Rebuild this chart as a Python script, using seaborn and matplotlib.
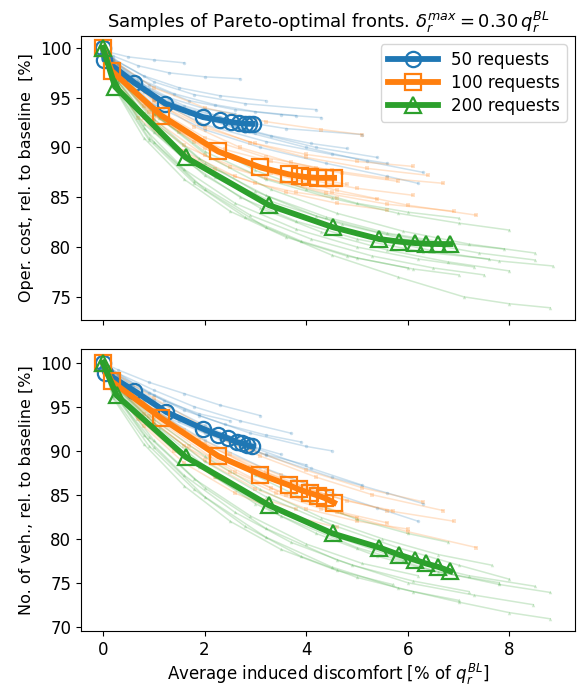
import numpy as np
import pandas as pd
import matplotlib
matplotlib.use("Agg")
import matplotlib.pyplot as plt
import seaborn as sns

# ---------------- data ----------------
GROUPS = ["50 requests", "100 requests", "200 requests"]
COLORS = ["#1f77b4", "#ff7f0e", "#2ca02c"]
MARKERS = ["o", "s", "^"]

# mean fronts, top panel (operational cost)
COST_MEAN50_X = [0, 0.03, 0.62, 1.23, 1.97, 2.3, 2.52, 2.68, 2.79, 2.88, 2.95]
COST_MEAN50_Y = [100, 98.8, 96.5, 94.4, 93.05, 92.75, 92.55, 92.45, 92.4, 92.38, 92.38]
COST_MEAN100_X = [0, 0.17, 1.15, 2.27, 3.1, 3.66, 3.88, 4.07, 4.24, 4.38, 4.55]
COST_MEAN100_Y = [100, 97.7, 93.2, 89.6, 88.0, 87.3, 87.1, 87.0, 86.95, 86.95, 86.95]
COST_MEAN200_X = [0, 0.24, 1.63, 3.27, 4.52, 5.44, 5.82, 6.14, 6.35, 6.6, 6.84]
COST_MEAN200_Y = [100, 96.1, 89.0, 84.2, 82.0, 80.8, 80.55, 80.4, 80.33, 80.3, 80.3]

# mean fronts, bottom panel (number of vehicles)
VEH_MEAN50_X = [0, 0.04, 0.62, 1.25, 1.97, 2.27, 2.47, 2.63, 2.73, 2.83, 2.93]
VEH_MEAN50_Y = [100, 98.9, 96.8, 94.4, 92.5, 91.8, 91.4, 91.0, 90.85, 90.67, 90.5]
VEH_MEAN100_X = [0, 0.17, 1.15, 2.27, 3.1, 3.66, 3.86, 4.07, 4.24, 4.38, 4.55]
VEH_MEAN100_Y = [100, 97.9, 93.7, 89.4, 87.3, 86.1, 85.6, 85.2, 84.9, 84.6, 84.1]
VEH_MEAN200_X = [0, 0.27, 1.63, 3.27, 4.52, 5.44, 5.82, 6.14, 6.35, 6.6, 6.84]
VEH_MEAN200_Y = [100, 96.3, 89.3, 83.8, 80.6, 79.0, 78.2, 77.6, 77.2, 76.8, 76.3]

# sample fronts, top panel
COST_S50_X = [
    [0, 0.1, 0.5, 1.0, 1.6],
    [0, 0.2, 0.7, 1.3, 2.0, 2.7],
    [0, 0.2, 0.8, 1.5, 2.3, 3.2],
    [0, 0.3, 1.0, 1.8, 2.8, 4.2],
    [0, 0.3, 0.9, 1.7, 2.6, 3.5, 4.3],
    [0, 0.2, 0.8, 1.6, 2.5, 3.6, 5.1],
    [0, 0.3, 1.0, 2.0, 3.0, 4.2, 5.4],
    [0, 0.3, 1.0, 2.0, 3.2, 4.5, 5.6],
    [0, 0.2, 0.8, 1.7, 2.8, 4.0, 5.2, 6.3],
    [0, 0.3, 1.0, 2.0, 3.1, 4.4, 5.6, 6.2],
    [0, 0.2, 0.7, 1.3, 2.0, 2.6],
    [0, 0.2, 0.6, 1.2, 1.8, 2.3],
    [0, 0.2, 0.7, 1.4, 2.2, 3.0, 3.8],
    [0, 0.3, 0.9, 1.6, 2.4, 3.3, 4.1, 4.8],
]
COST_S50_Y = [
    [100, 99.6, 99.1, 98.8, 98.5],
    [100, 99.2, 98.2, 97.5, 97.1, 96.9],
    [100, 98.9, 97.2, 96.0, 95.2, 94.7],
    [100, 98.6, 96.6, 95.3, 94.4, 93.8],
    [100, 98.4, 96.3, 94.7, 93.8, 93.3, 93.0],
    [100, 98.5, 96.1, 94.2, 92.8, 91.9, 91.3],
    [100, 98.0, 95.2, 93.0, 91.5, 90.0, 89.0],
    [100, 97.8, 94.8, 92.3, 90.6, 89.3, 88.4],
    [100, 98.2, 95.6, 93.4, 91.6, 90.0, 88.6, 87.5],
    [100, 97.6, 94.3, 91.8, 90.0, 88.4, 87.1, 86.4],
    [100, 98.6, 96.6, 95.0, 93.9, 93.4],
    [100, 98.3, 96.5, 94.8, 93.7, 93.1],
    [100, 98.7, 96.9, 95.4, 94.3, 93.6, 93.2],
    [100, 98.3, 95.9, 93.9, 92.4, 91.2, 90.4, 89.9],
]
COST_S100_X = [
    [0, 0.3, 1.0, 2.0, 3.2, 4.3, 5.1],
    [0, 0.3, 1.0, 2.0, 3.0, 4.0, 5.0, 6.1],
    [0, 0.3, 1.0, 2.0, 3.2, 4.5, 5.6, 6.7],
    [0, 0.3, 1.0, 2.0, 3.0, 4.0, 5.0, 6.1],
    [0, 0.3, 1.0, 2.0, 3.2, 4.4, 5.6, 6.9],
    [0, 0.3, 1.0, 2.1, 3.3, 4.6, 6.0, 7.35],
    [0, 0.2, 0.8, 1.6, 2.6, 3.6, 4.6, 5.6],
    [0, 0.2, 0.8, 1.5, 2.4, 3.3, 4.2],
    [0, 0.2, 0.7, 1.4, 2.2, 3.0, 3.8, 4.6],
    [0, 0.3, 1.0, 1.9, 2.9, 4.0, 5.2, 6.4],
    [0, 0.2, 0.9, 1.8, 2.8, 3.8, 4.8],
    [0, 0.2, 0.8, 1.6, 2.5, 3.5, 4.5, 5.4],
    [0, 0.3, 1.0, 1.8, 2.7, 3.7, 4.7, 5.8],
]
COST_S100_Y = [
    [100, 98.4, 96.0, 94.0, 92.6, 91.8, 91.3],
    [100, 97.8, 94.6, 92.0, 90.4, 89.3, 88.6, 88.1],
    [100, 97.5, 94.0, 91.0, 89.0, 87.7, 86.9, 86.4],
    [100, 97.2, 93.2, 89.9, 88.0, 86.8, 85.9, 85.2],
    [100, 97.0, 92.8, 89.2, 86.9, 85.4, 84.3, 83.6],
    [100, 97.3, 93.4, 89.8, 87.4, 85.7, 84.2, 83.2],
    [100, 97.0, 93.0, 89.6, 87.1, 85.5, 84.4, 83.7],
    [100, 97.6, 94.2, 91.6, 89.8, 88.6, 87.9],
    [100, 96.8, 93.0, 90.0, 87.8, 86.4, 85.5, 84.9],
    [100, 98.0, 95.0, 92.4, 90.5, 89.0, 87.9, 87.2],
    [100, 97.4, 93.6, 90.6, 88.6, 87.2, 86.3],
    [100, 97.2, 93.4, 90.2, 88.0, 86.5, 85.5, 84.8],
    [100, 97.9, 94.8, 92.1, 90.0, 88.5, 87.4, 86.6],
]
COST_S200_X = [
    [0, 0.3, 1.0, 2.0, 3.2, 4.5, 5.8, 7.0, 8.0],
    [0, 0.3, 1.0, 2.0, 3.3, 4.7, 6.1, 7.4, 8.5],
    [0, 0.3, 1.1, 2.2, 3.5, 5.0, 6.5, 7.8, 8.85],
    [0, 0.3, 1.0, 2.0, 3.2, 4.5, 5.8, 7.1, 8.0, 8.8],
    [0, 0.2, 0.8, 1.6, 2.6, 3.8, 5.0, 6.2, 7.3],
    [0, 0.3, 1.0, 2.0, 3.2, 4.4, 5.6, 6.8, 7.9],
    [0, 0.2, 0.9, 1.8, 2.9, 4.1, 5.3, 6.5, 7.5],
    [0, 0.3, 1.0, 2.0, 3.0, 4.0, 5.0, 6.0, 7.0],
    [0, 0.2, 0.8, 1.6, 2.5, 3.6, 4.8, 6.0],
    [0, 0.3, 1.0, 2.0, 3.1, 4.3, 5.6, 6.8, 8.0],
    [0, 0.3, 1.1, 2.1, 3.3, 4.6, 5.9, 7.2, 8.5],
    [0, 0.2, 0.9, 1.8, 2.8, 3.9, 5.0, 6.1, 7.0],
    [0, 0.2, 0.8, 1.7, 2.7, 3.8, 5.0, 6.3, 7.6],
    [0, 0.3, 1.0, 1.9, 3.0, 4.2, 5.4, 6.6],
]
COST_S200_Y = [
    [100, 97.4, 93.4, 89.6, 86.8, 84.9, 83.4, 82.4, 81.7],
    [100, 96.8, 92.0, 87.8, 84.6, 82.3, 80.6, 79.4, 78.7],
    [100, 96.6, 91.5, 87.0, 83.7, 81.3, 79.6, 78.6, 78.1],
    [100, 96.0, 90.6, 85.8, 82.0, 79.2, 77.0, 75.0, 74.3, 73.9],
    [100, 96.8, 92.0, 87.8, 84.4, 81.8, 80.0, 78.8, 78.0],
    [100, 97.0, 92.6, 88.4, 85.2, 83.0, 81.4, 80.4, 79.8],
    [100, 96.4, 91.0, 86.6, 83.2, 80.8, 79.1, 77.9, 77.2],
    [100, 97.6, 94.0, 90.4, 87.7, 85.8, 84.4, 83.5, 82.9],
    [100, 96.2, 91.0, 86.8, 83.6, 81.0, 79.1, 77.9],
    [100, 96.6, 91.6, 87.2, 83.9, 81.5, 79.7, 78.5, 77.6],
    [100, 97.2, 93.0, 89.0, 85.8, 83.4, 81.6, 80.3, 79.4],
    [100, 96.2, 90.8, 86.4, 83.0, 80.6, 78.9, 77.8, 77.2],
    [100, 96.9, 92.4, 88.4, 85.0, 82.6, 80.8, 79.5, 78.8],
    [100, 97.1, 92.9, 88.9, 85.6, 83.1, 81.5, 80.4],
]

# sample fronts, bottom panel
VEH_S50_X = [
    [0, 0.3, 0.9, 1.6, 2.3, 3.1],
    [0, 0.3, 1.0, 1.8, 2.7, 3.7],
    [0, 0.3, 1.0, 1.9, 2.9, 4.0, 4.5],
    [0, 0.3, 1.0, 2.0, 3.0, 4.1, 5.1],
    [0, 0.3, 1.0, 2.0, 3.2, 4.5, 5.6, 6.3],
    [0, 0.3, 1.0, 2.0, 3.1, 4.3, 5.4, 6.2],
    [0, 0.2, 0.8, 1.5, 2.3, 3.0],
    [0, 0.2, 0.7, 1.3, 2.0, 2.6],
    [0, 0.2, 0.8, 1.5, 2.3, 3.2, 4.0],
    [0, 0.3, 0.9, 1.6, 2.4, 3.2, 3.9],
    [0, 0.2, 0.6, 1.2, 1.9, 2.5],
    [0, 0.2, 0.7, 1.4, 2.1, 2.9, 3.5],
]
VEH_S50_Y = [
    [100, 99.2, 97.8, 96.5, 95.2, 94.0],
    [100, 98.8, 96.9, 95.0, 93.4, 92.0],
    [100, 98.6, 96.4, 94.0, 92.0, 90.5, 90.0],
    [100, 98.4, 95.8, 92.9, 90.3, 88.0, 86.1],
    [100, 98.2, 95.4, 92.3, 89.5, 87.0, 85.2, 84.0],
    [100, 97.8, 94.6, 91.2, 88.2, 85.6, 83.5, 82.0],
    [100, 98.5, 96.0, 93.8, 92.0, 90.8],
    [100, 98.2, 95.8, 93.7, 92.0, 91.0],
    [100, 98.4, 95.8, 93.4, 91.3, 89.6, 88.4],
    [100, 98.8, 96.6, 94.6, 93.0, 91.8, 91.0],
    [100, 98.9, 97.4, 95.7, 94.2, 93.4],
    [100, 98.6, 96.4, 94.1, 92.2, 90.6, 89.6],
]
VEH_S100_X = [
    [0, 0.3, 1.0, 2.0, 3.1, 4.2, 5.3, 6.7],
    [0, 0.3, 1.0, 2.0, 3.2, 4.4, 5.6, 6.9],
    [0, 0.3, 1.0, 2.1, 3.3, 4.6, 6.0, 7.35],
    [0, 0.3, 1.0, 2.0, 3.0, 4.0, 5.0, 6.0],
    [0, 0.2, 0.8, 1.6, 2.5, 3.4, 4.3, 5.0],
    [0, 0.2, 0.8, 1.6, 2.5, 3.5, 4.4],
    [0, 0.3, 1.0, 1.9, 2.9, 3.9, 4.8, 5.7],
    [0, 0.2, 0.7, 1.4, 2.2, 3.0, 3.8],
    [0, 0.3, 1.0, 1.9, 2.9, 4.0, 5.1, 6.3],
    [0, 0.2, 0.8, 1.6, 2.6, 3.6, 4.6],
    [0, 0.2, 0.9, 1.7, 2.6, 3.6, 4.7, 5.6],
]
VEH_S100_Y = [
    [100, 98.2, 95.4, 92.2, 89.4, 87.0, 85.0, 83.2],
    [100, 97.8, 94.6, 90.8, 87.6, 85.0, 83.2, 82.0],
    [100, 97.4, 93.8, 89.4, 85.8, 83.0, 80.8, 79.0],
    [100, 97.2, 93.2, 88.9, 85.7, 83.4, 82.0, 81.1],
    [100, 97.6, 94.2, 90.6, 87.6, 85.2, 83.4, 82.4],
    [100, 98.2, 95.6, 92.4, 89.6, 87.2, 85.5],
    [100, 97.8, 94.6, 91.2, 88.2, 85.9, 84.3, 83.2],
    [100, 97.2, 93.6, 90.0, 87.0, 84.8, 83.4],
    [100, 98.6, 96.0, 93.0, 90.2, 87.8, 85.8, 84.2],
    [100, 97.0, 92.8, 88.6, 85.2, 82.8, 81.3],
    [100, 97.7, 94.0, 90.6, 87.6, 85.0, 83.0, 81.8],
]
VEH_S200_X = [
    [0, 0.3, 1.0, 2.0, 3.2, 4.5, 5.8, 7.0, 8.0],
    [0, 0.3, 1.1, 2.2, 3.5, 5.0, 6.5, 7.8, 8.8],
    [0, 0.3, 1.0, 2.0, 3.2, 4.6, 6.0, 7.3, 8.47],
    [0, 0.3, 1.0, 2.0, 3.2, 4.5, 5.8, 7.0, 8.0, 8.8],
    [0, 0.2, 0.8, 1.6, 2.6, 3.7, 4.9, 6.1, 7.2],
    [0, 0.3, 1.0, 2.0, 3.1, 4.3, 5.5, 6.6, 7.65],
    [0, 0.2, 0.9, 1.8, 2.8, 3.9, 5.0, 6.1, 7.0],
    [0, 0.3, 1.0, 2.0, 3.0, 4.0, 5.0, 6.0, 6.8],
    [0, 0.2, 0.8, 1.6, 2.5, 3.5, 4.6, 5.7],
    [0, 0.3, 1.1, 2.1, 3.3, 4.6, 5.9, 7.2, 8.5],
    [0, 0.2, 0.9, 1.8, 2.9, 4.0, 5.1, 6.2],
    [0, 0.3, 1.0, 1.9, 3.0, 4.2, 5.4, 6.6, 7.8],
]
VEH_S200_Y = [
    [100, 97.2, 93.2, 88.8, 84.8, 81.6, 79.0, 77.0, 75.4],
    [100, 96.8, 92.0, 87.0, 82.6, 79.0, 76.4, 74.8, 73.9],
    [100, 96.4, 91.2, 85.8, 81.2, 77.6, 75.0, 73.6, 72.5],
    [100, 96.0, 90.4, 84.8, 80.2, 76.8, 74.4, 72.8, 71.6, 70.9],
    [100, 96.6, 91.8, 87.2, 83.0, 79.6, 77.0, 75.2, 74.0],
    [100, 97.4, 93.6, 89.4, 85.6, 82.4, 80.0, 78.2, 77.0],
    [100, 96.2, 90.6, 85.6, 81.4, 78.0, 75.6, 74.0, 73.0],
    [100, 97.8, 94.4, 90.6, 87.2, 84.4, 82.2, 80.6, 79.6],
    [100, 96.0, 90.8, 86.0, 82.0, 78.8, 76.4, 74.8],
    [100, 97.0, 92.6, 87.8, 83.6, 80.2, 77.6, 75.8, 74.6],
    [100, 96.6, 91.6, 86.8, 82.6, 79.4, 77.2, 75.8],
    [100, 97.0, 92.8, 88.2, 84.0, 80.6, 78.0, 76.2, 75.0],
]

TITLE = r"Samples of Pareto-optimal fronts. $\delta_r^{max} = 0.30\,q_r^{BL}$"
YLABEL_TOP = "Oper. cost, rel. to baseline  [%]"
YLABEL_BOT = "No. of veh., rel. to baseline [%]"
XLABEL = r"Average induced discomfort [% of $q_r^{BL}$]"
YTICKS_TOP = [75, 80, 85, 90, 95, 100]
YTICKS_BOT = [70, 75, 80, 85, 90, 95, 100]
XTICKS = [0, 2, 4, 6, 8]


def samples_frame(xs_list, ys_list, group):
    rows = []
    for i, (xs, ys) in enumerate(zip(xs_list, ys_list)):
        for j, (x, y) in enumerate(zip(xs, ys)):
            rows.append({"x": x, "y": y, "unit": i, "order": j, "group": group})
    return pd.DataFrame(rows)


def mean_frame(xs, ys, group):
    return pd.DataFrame({"x": xs, "y": ys, "group": group})


PANELS = [
    {
        "samples": [(COST_S50_X, COST_S50_Y), (COST_S100_X, COST_S100_Y), (COST_S200_X, COST_S200_Y)],
        "means": [(COST_MEAN50_X, COST_MEAN50_Y), (COST_MEAN100_X, COST_MEAN100_Y), (COST_MEAN200_X, COST_MEAN200_Y)],
        "ylabel": YLABEL_TOP, "yticks": YTICKS_TOP,
    },
    {
        "samples": [(VEH_S50_X, VEH_S50_Y), (VEH_S100_X, VEH_S100_Y), (VEH_S200_X, VEH_S200_Y)],
        "means": [(VEH_MEAN50_X, VEH_MEAN50_Y), (VEH_MEAN100_X, VEH_MEAN100_Y), (VEH_MEAN200_X, VEH_MEAN200_Y)],
        "ylabel": YLABEL_BOT, "yticks": YTICKS_BOT,
    },
]

# ---------------- figure ----------------
plt.rcParams["font.family"] = ["DejaVu Sans"]
plt.rcParams["mathtext.fontset"] = "dejavusans"

fig = plt.figure(figsize=(5.79, 6.92), dpi=100)
ax_top = fig.add_axes([0.140, 0.538, 0.853, 0.410])
ax_bot = fig.add_axes([0.140, 0.088, 0.853, 0.408], sharex=ax_top)

for ax, panel in zip([ax_top, ax_bot], PANELS):
    for (sx, sy), g, c, m in zip(panel["samples"], GROUPS, COLORS, MARKERS):
        df = samples_frame(sx, sy, g)
        sns.lineplot(data=df, x="x", y="y", units="unit", estimator=None, sort=False,
                     color=c, alpha=0.22, linewidth=1.1, marker=m, markersize=2.5,
                     markeredgewidth=0, ax=ax, legend=False)
    for (mx, my), g, c, m in zip(panel["means"], GROUPS, COLORS, MARKERS):
        df = mean_frame(mx, my, g)
        sns.lineplot(data=df, x="x", y="y", sort=False, estimator=None,
                     color=c, linewidth=4.2, marker=m, markersize=11,
                     markerfacecolor="none", markeredgecolor=c, markeredgewidth=1.6,
                     ax=ax, label=g, legend=False)
    ax.set_ylabel(panel["ylabel"], fontsize=11.5)
    ax.set_yticks(panel["yticks"])
    ax.tick_params(labelsize=12)
    ax.set_xlabel("")

ax_top.set_xlim(-0.43, 9.29)
ax_top.set_ylim(72.7, 101.2)
ax_bot.set_ylim(69.5, 101.6)
ax_top.set_xticks(XTICKS)
plt.setp(ax_top.get_xticklabels(), visible=False)
ax_bot.set_xlabel(XLABEL, fontsize=12, labelpad=2)
ax_top.set_title(TITLE, fontsize=13)

handles, labels = ax_top.get_legend_handles_labels()
ax_top.legend(handles[-3:], labels[-3:], loc="upper right", fontsize=12,
              handlelength=3.0, labelspacing=0.3, framealpha=0.8)

fig.savefig("out.png", dpi=100)
